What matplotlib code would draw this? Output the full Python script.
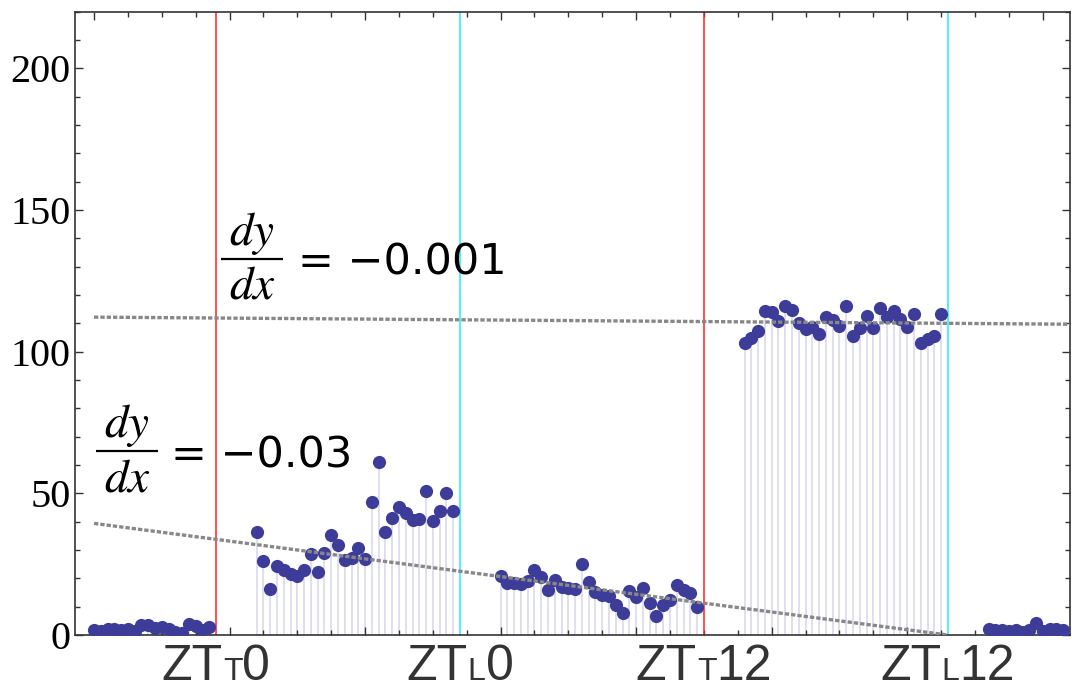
import numpy as np
import matplotlib
matplotlib.use('Agg')
import matplotlib.pyplot as plt
from matplotlib.offsetbox import TextArea, HPacker, AnnotationBbox

# sample index of each recorded time point (six-sample gaps between blocks)
x_block1 = list(range(0, 18))
x_block2 = list(range(24, 54))
x_block3 = list(range(60, 90))
x_block4 = list(range(96, 126))
x_block5 = list(range(132, 144))

y_block1 = [1.6, 1.4, 2.0, 2.3, 1.7, 2.2, 1.3, 3.6, 3.4, 2.4, 3.0, 2.0,
            1.1, 0.6, 3.9, 3.3, 1.9, 3.0]
y_block2 = [36.2, 26.2, 16.2, 24.2, 23.0, 21.5, 20.7, 23.0, 28.6, 22.4,
            29.1, 35.2, 31.9, 26.5, 27.1, 30.7, 26.8, 46.8, 61.0, 36.2,
            41.3, 45.2, 43.1, 40.7, 40.9, 51.0, 40.1, 43.9, 50.2, 43.9]
y_block3 = [20.9, 18.5, 18.5, 17.9, 19.1, 23.0, 20.6, 15.9, 19.5, 17.1,
            16.7, 16.2, 25.0, 18.8, 15.3, 14.2, 13.8, 10.6, 7.7, 15.6,
            13.3, 16.5, 11.4, 6.7, 10.5, 12.4, 17.7, 15.9, 14.7, 10.0]
y_block4 = [103.0, 105.0, 107.4, 114.5, 113.9, 110.9, 116.2, 114.8, 110.1,
            108.0, 108.6, 106.4, 112.3, 111.3, 109.1, 116.2, 105.6, 108.2,
            112.7, 108.2, 115.3, 112.1, 114.2, 111.5, 108.6, 113.3, 103.0,
            104.4, 105.6, 113.3]
y_block5 = [2.2, 1.9, 1.6, 1.4, 1.8, 1.2, 1.8, 4.2, 1.5, 2.2, 2.2, 1.8]

# fitted trend lines (end points)
fit_hi_x = [0, 144]
fit_hi_y = [112.2, 109.7]
fit_lo_x = [0, 126]
fit_lo_y = [39.4, 0.0]

# slope labels
slope_text = ['= \u22120.001', '= \u22120.03']

# zeitgeber markers
red_x = [18, 90]
cyan_x = [54, 126]
zt_x = [18, 54, 90, 126]
zt_sub = ['T', 'L', 'T', 'L']
zt_num = ['0', '0', '12', '12']

C_PT = '#3d3d99'
C_STEM = '#dcdcef'
C_FIT = '#888888'

plt.rcParams['mathtext.fontset'] = 'stix'

xs = x_block1 + x_block2 + x_block3 + x_block4 + x_block5
ys = y_block1 + y_block2 + y_block3 + y_block4 + y_block5

fig = plt.figure(figsize=(10.72, 6.88), dpi=100, facecolor='white')
ax = fig.add_axes([0.070, 0.077, 0.928, 0.906])

ax.vlines(xs, 0, ys, color=C_STEM, lw=1.3, zorder=1)
for xv in red_x:
    ax.axvline(xv, color='#ff2020', lw=1.1, zorder=2)
for xv in cyan_x:
    ax.axvline(xv, color='#20f0f0', lw=1.1, zorder=2)
ax.plot(xs, ys, ls='none', marker='o', markersize=9.5, color=C_PT,
        markeredgewidth=0, zorder=3)
ax.plot(fit_hi_x, fit_hi_y, color=C_FIT, lw=2.4, ls=(0, (1.3, 0.6)), zorder=4)
ax.plot(fit_lo_x, fit_lo_y, color=C_FIT, lw=2.4, ls=(0, (1.3, 0.6)), zorder=4)

ax.set_xlim(-2.8, 144)
ax.set_ylim(0, 220)
ax.set_xticks(np.arange(0, 145, 20))
ax.set_xticks(np.arange(0, 145, 5), minor=True)
ax.set_yticks([0, 50, 100, 150, 200])
ax.set_yticks(np.arange(0, 221, 10), minor=True)
ax.set_xticklabels([])
ax.tick_params(which='both', direction='in', top=True, right=True,
               color='#333333', width=1.0)
ax.tick_params(which='major', length=6)
ax.tick_params(which='minor', length=3.5)
ax.tick_params(axis='y', labelsize=29, pad=3)
for lbl in ax.get_yticklabels():
    lbl.set_family('Liberation Serif')
for sp in ax.spines.values():
    sp.set_color('#333333')
    sp.set_linewidth(1.2)


def slope_label(x0, x1, ybar, xeq, ybase, txt):
    # hand-built dy/dx fraction, then the value in sans
    xc = (x0 + x1) / 2
    ax.plot([x0, x1], [ybar, ybar], color='black', lw=1.6, zorder=5,
            solid_capstyle='butt')
    ax.annotate('$dy$', (xc, ybar), xytext=(0, 1.5), textcoords='offset points',
                ha='center', va='bottom', fontsize=34, zorder=5)
    ax.annotate('$dx$', (xc, ybar), xytext=(0, -3.5), textcoords='offset points',
                ha='center', va='top', fontsize=34, zorder=5)
    ax.text(xeq, ybase, txt, fontsize=31, family='DejaVu Sans',
            ha='left', va='baseline', zorder=5)


slope_label(18.75, 27.9, 132.7, 30.1, 127.4, slope_text[0])
slope_label(0.3, 9.4, 64.8, 11.4, 59.1, slope_text[1])

# ZT labels under the axis (small capital on the baseline)
big = dict(fontsize=36, color='#333333', family='Liberation Sans')
small = dict(fontsize=23, color='#333333', family='Liberation Sans')
for xv, sub, num in zip(zt_x, zt_sub, zt_num):
    box = HPacker(children=[TextArea('ZT', textprops=big),
                            TextArea(sub, textprops=small),
                            TextArea(num, textprops=big)],
                  align='baseline', pad=0, sep=0)
    ab = AnnotationBbox(box, (xv, 0), xycoords=('data', 'axes fraction'),
                        xybox=(0, -6.5), boxcoords='offset points',
                        box_alignment=(0.5, 1), frameon=False, pad=0,
                        annotation_clip=False)
    ax.add_artist(ab)

fig.savefig('out.png', dpi=100, facecolor='white')
